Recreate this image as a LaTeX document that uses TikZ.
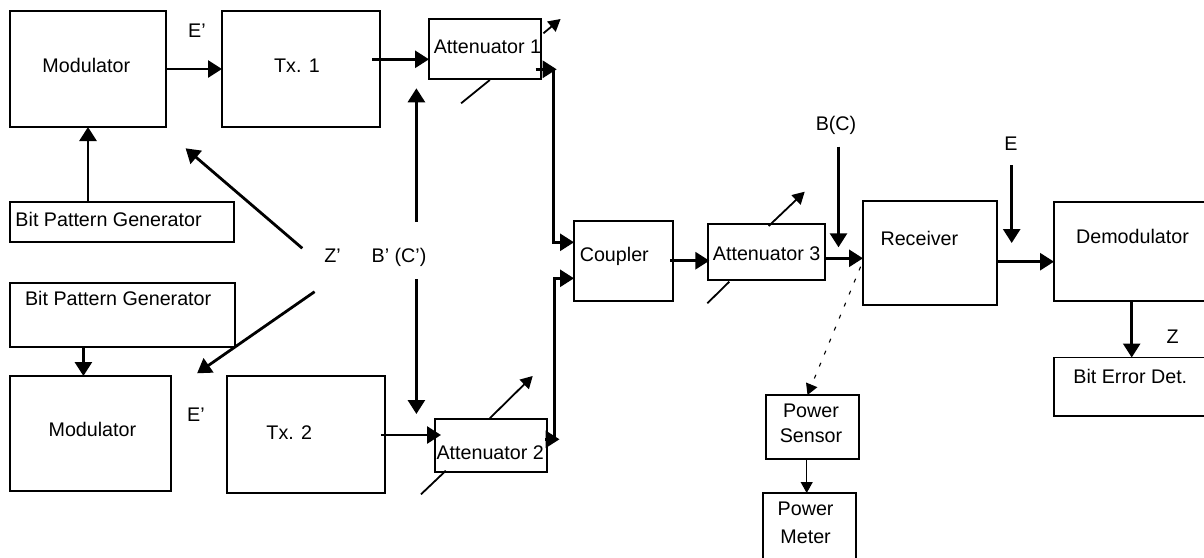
\documentclass[tikz,border=0pt]{standalone}
\usepackage{fontspec}
\setmainfont{Liberation Sans}
\usetikzlibrary{arrows.meta}
\begin{document}
\begin{tikzpicture}[x=1pt,y=-1pt,
  box/.style={draw, line width=1.8pt, inner sep=0pt, outer sep=0pt, rectangle},
  txt/.style={inner sep=0pt, anchor=base, font=\fontsize{19.7}{23}\selectfont},
  arr/.style={line width=2.8pt, -{Triangle[length=14pt,width=17pt]}},
  varr/.style={line width=1.8pt, -{Triangle[length=12pt,width=13pt]}},
  vline/.style={line width=1.8pt},
  thinarr/.style={line width=1.1pt, -{Triangle[length=11pt,width=12pt]}},
  dotarr/.style={line width=1.1pt, dash pattern=on 4pt off 9pt, -{Triangle[length=11pt,width=12pt]}}
]
\useasboundingbox (0,0) rectangle (1204,557);
\clip (0,0) rectangle (1204,557);

% boxes
\node[box, minimum width=156pt, minimum height=116pt] (mod1) at (88,69) {};
\node[box, minimum width=158pt, minimum height=116pt] (tx1) at (301,69) {};
\node[box, minimum width=112pt, minimum height=60pt] (att1) at (485,49) {};
\node[box, minimum width=224pt, minimum height=40pt] (bpg1) at (122,222) {};
\node[box, minimum width=225pt, minimum height=64pt] (bpg2) at (122.5,315) {};
\node[box, minimum width=161pt, minimum height=115pt] (mod2) at (90.5,433.5) {};
\node[box, minimum width=158pt, minimum height=117pt] (tx2) at (306,434.5) {};
\node[box, minimum width=112pt, minimum height=53pt] (att2) at (491,445.5) {};
\node[box, minimum width=99pt, minimum height=80pt] (coupler) at (623.5,261) {};
\node[box, minimum width=117pt, minimum height=56pt] (att3) at (766.5,252) {};
\node[box, minimum width=134pt, minimum height=104pt] (recv) at (930,253) {};
\node[box, minimum width=250pt, minimum height=99pt] (demod) at (1179,251.5) {};
\node[box, minimum width=250pt, minimum height=58.5pt] (biterr) at (1179,386.75) {};
\node[box, minimum width=93pt, minimum height=64pt] (psens) at (812.5,427) {};
\node[box, minimum width=93pt, minimum height=127pt] (pmeter) at (809.5,556.5) {};

% texts
\node[txt] (tmod1) at (86.3,72) {Modulator};
\node[txt] (ttx1) at (297,72) {Tx. 1};
\node[txt] (tatt1) at (487.5,53.7) {Attenuator 1};
\node[txt] (te1) at (197,37) {E'};
\node[txt, anchor=base west] (tbpg1) at (15.3,226) {Bit Pattern Generator};
\node[txt, anchor=base west] (tbpg2) at (24.9,305.3) {Bit Pattern Generator};
\node[txt] (tmod2) at (92.4,436.3) {Modulator};
\node[txt] (te2) at (196,421) {E'};
\node[txt] (ttx2) at (289.3,439.7) {Tx. 2};
\node[txt] (tatt2) at (490.2,459.7) {Attenuator 2};
\node[txt] (tz1) at (332.5,262) {Z'};
\node[txt] (tb1) at (399,262) {B' (C')};
\node[txt] (tcoup) at (614.3,261) {Coupler};
\node[txt] (tatt3) at (766.6,260.3) {Attenuator 3};
\node[txt] (tbc) at (836,130.3) {B(C)};
\node[txt] (trecv) at (919.4,245.3) {Receiver};
\node[txt] (te) at (1011,150) {E};
\node[txt] (tdemod) at (1132.5,243.7) {Demodulator};
\node[txt] (tz) at (1172.7,343) {Z};
\node[txt] (tbed) at (1130.3,383.7) {Bit Error Det.};
\node[txt, align=center, font=\fontsize{19.7}{24.3}\selectfont] (tps) at (811,442) {Power\\Sensor};
\node[txt, align=center, font=\fontsize{19.7}{28}\selectfont] (tpm) at (805.6,543) {Power\\Meter};

% main signal path
\draw[arr] (mod1) -- (tx1);
\coordinate (t1o) at (372,59.3);
\draw[arr] (t1o) -- (t1o -| att1.west);
\draw[arr] (bpg1.north -| mod1.south) -- (mod1.south);
\coordinate (b2o) at (83.4,0);
\draw[arr] (b2o |- bpg2.south) -- (b2o |- mod2.north);

\coordinate (a1o) at (535.7,69.3);
\draw[arr] (a1o) -- ++(21,0);
\coordinate (j1) at (553.7,69.3);
\coordinate (cin1) at (0,242.3);
\draw[arr] (j1) |- (coupler.west |- cin1);

\coordinate (a2o) at (545,439.3);
\draw[arr] (a2o) -- ++(14.5,0);
\coordinate (j2) at (554.1,439.3);
\coordinate (cin2) at (0,278.3);
\draw[arr] (j2) |- (coupler.west |- cin2);

\coordinate (t2o) at (380.8,435);
\draw[arr] (t2o) -- ([xshift=6pt]t2o -| att2.west);
\coordinate (cpo) at (670,260.7);
\draw[arr] (cpo) -- ([xshift=1.4pt]cpo -| att3.west);
\coordinate (a3o) at (825.9,258.3);
\draw[arr] (a3o) -- (a3o -| recv.west);
\coordinate (ro) at (0,261.7);
\draw[arr] (recv.east |- ro) -- (demod.west |- ro);
\coordinate (dz) at (1131.7,0);
\draw[arr] (dz |- demod.south) -- (dz |- biterr.north);

% injection arrows
\coordinate (bc1) at (838.5,146.7);
\coordinate (bc2) at (838.5,247.3);
\draw[arr] (bc1) -- (bc2);
\coordinate (e1) at (1011.7,165);
\coordinate (e2) at (1011.7,243);
\draw[arr] (e1) -- (e2);
\coordinate (bu1) at (416.4,221.7);
\coordinate (bu2) at (416.4,88.3);
\draw[arr] (bu1) -- (bu2);
\coordinate (bd1) at (416.4,279.3);
\coordinate (bd2) at (416.4,414);
\draw[arr] (bd1) -- (bd2);
\coordinate (zu1) at (302.3,248.3);
\coordinate (zu2) at (185.6,148.3);
\draw[arr] (zu1) -- (zu2);
\coordinate (zd1) at (314.6,291.7);
\coordinate (zd2) at (197.1,373.3);
\draw[arr] (zd1) -- (zd2);

% variable attenuator marks
\coordinate (v1a) at (543.4,33.3);
\coordinate (v1b) at (560.6,19);
\draw[varr] (v1a) -- (v1b);
\coordinate (v1c) at (489.8,80);
\coordinate (v1d) at (461.1,103.3);
\draw[vline] (v1c) -- (v1d);
\coordinate (v2a) at (489.8,418.3);
\coordinate (v2b) at (532.7,376);
\draw[varr] (v2a) -- (v2b);
\coordinate (v2c) at (445.8,470.7);
\coordinate (v2d) at (421,494.3);
\draw[vline] (v2c) -- (v2d);
\coordinate (v3a) at (768.7,226);
\coordinate (v3b) at (804.7,191.7);
\draw[varr] (v3a) -- (v3b);
\coordinate (v3c) at (729.3,281.7);
\coordinate (v3d) at (707.3,303.3);
\draw[vline] (v3c) -- (v3d);

% power measurement
\coordinate (dp) at (860.6,266.7);
\coordinate (pst) at (807.5,0);
\draw[dotarr] (dp) -- (pst |- psens.north);
\coordinate (pm) at (806.7,0);
\draw[thinarr] (pm |- psens.south) -- (pm |- pmeter.north);
\end{tikzpicture}
\end{document}
